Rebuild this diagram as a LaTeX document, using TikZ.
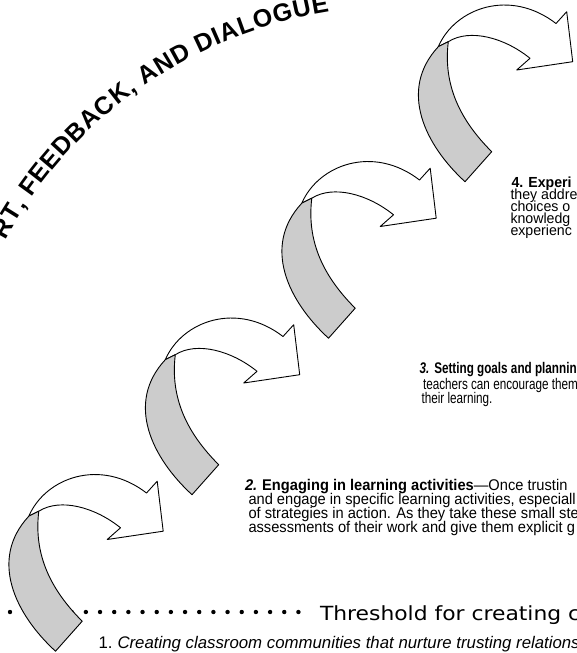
\documentclass[tikz,border=0pt]{standalone}
\usepackage{fontspec}
\setmainfont{Liberation Sans}
\newfontfamily\fontB{Liberation Sans}[FakeStretch=0.945]
\newfontfamily\fontC{Liberation Sans}[FakeStretch=0.76]
\newfontfamily\fontD{Liberation Sans}[FakeStretch=0.97]
\newfontfamily\thrfont{DejaVu Sans}[FakeStretch=1.12]
\usetikzlibrary{decorations.text}
\definecolor{ribbongray}{RGB}{204,204,204}
\tikzset{
  ribbonline/.style={draw=black, line width=0.9pt, line join=round},
  txt/.style={anchor=base west, inner sep=0pt, outer sep=0pt, text=black},
  ribbon/.pic={
    \filldraw[ribbonline, fill=white] (438.3,46.7) .. controls (455,8) and (510,-12) .. (556,23.5)
      -- (566.7,11.7) -- (572.7,61.7) -- (516.7,70) -- (530,58.3)
      .. controls (505,38) and (470,28) .. (448.3,41.7) -- cycle;
    \filldraw[ribbonline, fill=ribbongray] (438.3,46.7) -- (448.3,41.7)
      .. controls (443,85) and (460,120) .. (491.7,151.7) -- (465,181.7)
      .. controls (425,145) and (398,90) .. (438.3,46.7) -- cycle;
  }
}
\begin{document}
\begin{tikzpicture}[x=1pt,y=-1pt]
\useasboundingbox (0,0) rectangle (576,653);
\fill[white] (0,0) rectangle (576,653);
\begin{scope}
\clip (0,0) rectangle (576,653);
% title along arc
\path[decorate, decoration={text along path, text align=fit to path,
  text={|\bfseries\fontsize{25}{25}\selectfont|RT, FEEDBACK, AND DIALOGUE}}]
  (5.3,240.3) arc[start angle=208.6, end angle=261, radius=449];
% threshold dotted line
\fill (10,612) circle[radius=2.2];
\foreach \i in {0,...,16} \fill ({71.7+14.17*\i},612) circle[radius=2.2];
% ribbons
\pic at (0,0) {ribbon};
\pic at (-136.5,156.5) {ribbon};
\pic at (-273,313) {ribbon};
\pic at (-409.5,469.5) {ribbon};
% threshold text
\node[txt, font=\thrfont\fontsize{19.5}{19.5}\selectfont] (thr) at (320,620) {Threshold for creating c};
% block 1
\node[txt, font=\fontsize{16.8}{16}\selectfont] (t1) at (98.5,648) {1.\hspace{5pt}\textit{Creating classroom communities that nurture trusting relations}};
% block 2
\begin{scope}[every node/.style={txt, font=\fontB\fontsize{15.5}{14}\selectfont}]
\node (t2a) at (245,490.5) {\textbf{\textit{2.}}\hspace{5pt}\textbf{Engaging in learning activities}—Once trustin};
\node (t2b) at (248.5,504.5) {and engage in specific learning activities, especiall};
\node (t2c) at (248.5,518.5) {of strategies in action. As they take these small ste};
\node (t2d) at (248.5,532.5) {assessments of their work and give them explicit g};
\end{scope}
% block 3
\begin{scope}[every node/.style={txt, font=\fontC\fontsize{15.4}{15}\selectfont}]
\node (t3a) at (419.5,373.5) {\textbf{\textit{3.}}\hspace{5pt}\textbf{Setting goals and plannin}};
\node (t3b) at (423,389) {teachers can encourage them};
\node (t3c) at (421.5,403.5) {their learning.};
\end{scope}
% block 4
\begin{scope}[every node/.style={txt, font=\fontD\fontsize{14.6}{12}\selectfont}]
\node (t4a) at (511.5,187.5) {\textbf{4.}\hspace{5pt}\textbf{Experi}};
\node (t4b) at (510.5,199.5) {they addre};
\node (t4c) at (510.5,211.5) {choices o};
\node (t4d) at (510.5,223.5) {knowledg};
\node (t4e) at (510.5,235.5) {experienc};
\end{scope}
\end{scope}
\end{tikzpicture}
\end{document}
